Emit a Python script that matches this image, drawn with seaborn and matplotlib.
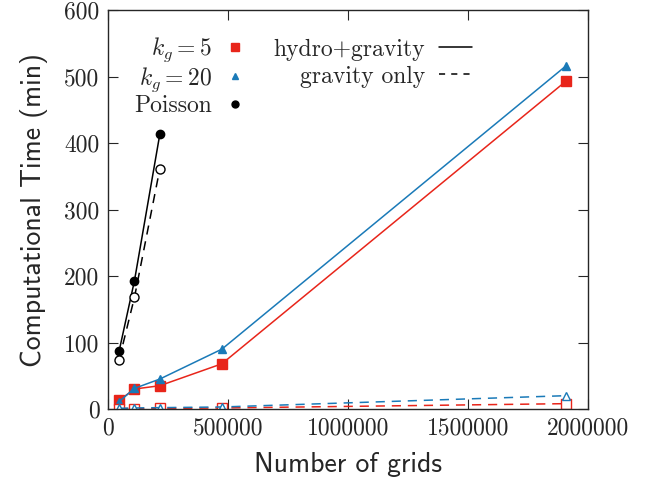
import numpy as np
import pandas as pd
import matplotlib
matplotlib.use("Agg")
import matplotlib.pyplot as plt
import seaborn as sns
from matplotlib.lines import Line2D

# grid counts
grids = [46656, 110592, 216000, 474552, 1906624]
grids_poisson = [46656, 110592, 216000]

# computational time (min)
kg5_hydro = [13, 30, 35, 68, 493]
kg20_hydro = [11, 31, 45, 90, 516]
kg5_grav = [0.5, 0.6, 0.8, 1.5, 8]
kg20_grav = [1, 1.5, 2, 3, 20]
poisson_hydro = [87, 193, 413]
poisson_grav = [74, 168, 361]

red = "#e8251a"
blue = "#1a7ab8"

sns.set_style("ticks")
plt.rcParams["font.family"] = ["cmr10", "DejaVu Serif"]
plt.rcParams["mathtext.fontset"] = "cm"
plt.rcParams["axes.formatter.use_mathtext"] = True

fig = plt.figure(figsize=(6.5, 4.84), dpi=100)
ax = fig.add_axes([0.166, 0.155, 0.739, 0.824])

series = [
    (grids, kg5_hydro, red, "s", "-", True, 6.5),
    (grids, kg20_hydro, blue, "^", "-", True, 6),
    (grids_poisson, poisson_hydro, "black", "o", "-", True, 6),
    (grids, kg5_grav, red, "s", "--", False, 6.5),
    (grids, kg20_grav, blue, "^", "--", False, 6),
    (grids_poisson, poisson_grav, "black", "o", "--", False, 6.5),
]
for x, y, c, m, ls, filled, ms in series:
    df = pd.DataFrame({"grids": x, "time": y})
    sns.lineplot(data=df, x="grids", y="time", ax=ax, color=c, linestyle=ls,
                 marker=m, markersize=ms, lw=1.1,
                 markerfacecolor=c if filled else "white",
                 markeredgecolor=c, markeredgewidth=1.0, legend=False)
    if ls == "--":
        ax.lines[-1].set_dashes((6, 4.5))

ax.set_xlim(0, 2000000)
ax.set_ylim(0, 600)
ax.set_xticks([0, 500000, 1000000, 1500000, 2000000])
ax.set_xticklabels(["0", "500000", "1000000", "1500000", "2000000"])
ax.set_yticks(range(0, 601, 100))
ax.set_yticklabels([str(v) for v in range(0, 601, 100)])
ax.tick_params(direction="in", top=True, right=True, labelsize=17, length=7, pad=6)
for s in ax.spines.values():
    s.set_linewidth(1.0)
ax.set_xlabel("Number of grids", fontfamily="cmss10", fontsize=20, labelpad=9)
ax.set_ylabel("Computational Time (min)", fontfamily="cmss10", fontsize=20, labelpad=12)

h1 = [Line2D([], [], color=red, marker="s", ls="none", markersize=6),
      Line2D([], [], color=blue, marker="^", ls="none", markersize=4),
      Line2D([], [], color="black", marker="o", ls="none", markersize=5)]
leg1 = ax.legend(h1, [r"$k_g = 5$", r"$k_g = 20$", "Poisson"], loc="upper left",
                 bbox_to_anchor=(0.01, 0.99), frameon=False, markerfirst=False,
                 handlelength=1.0, handletextpad=0.5, labelspacing=0.05, fontsize=17)
ax.add_artist(leg1)
h2 = [Line2D([], [], color="black", ls="-", lw=1.1),
      Line2D([], [], color="black", ls=(0, (4, 4)), lw=1.1)]
ax.legend(h2, ["hydro+gravity", "gravity only"], loc="upper left",
          bbox_to_anchor=(0.30, 0.982), frameon=False, markerfirst=False,
          handlelength=1.4, handletextpad=0.6, labelspacing=0.2, fontsize=17)

fig.savefig("out.png", dpi=100)
